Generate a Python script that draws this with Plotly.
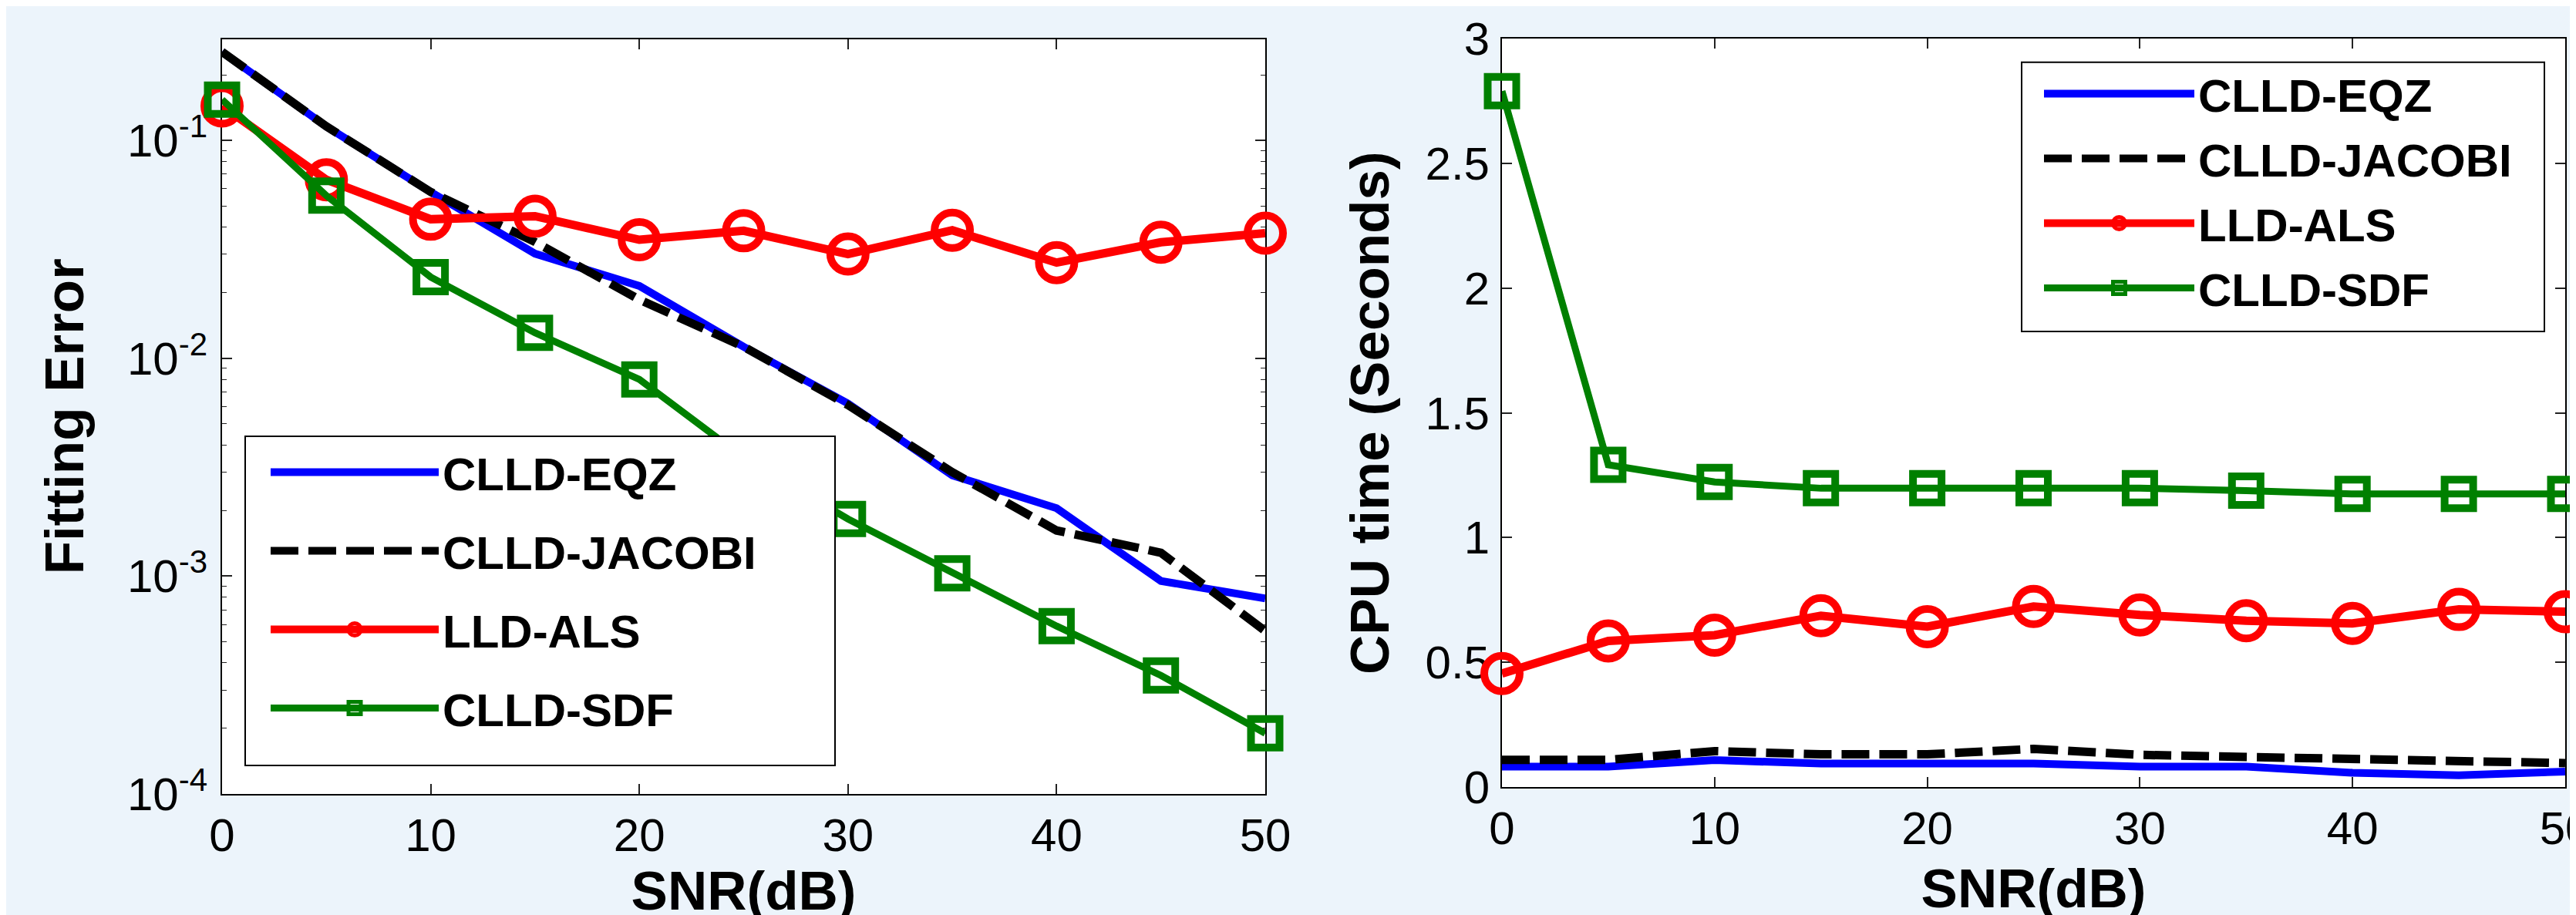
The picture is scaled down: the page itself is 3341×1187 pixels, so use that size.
import plotly.graph_objects as go

# ---------------- data ----------------
snr = [0, 5, 10, 15, 20, 25, 30, 35, 40, 45, 50]
series_names = ["CLLD-EQZ", "CLLD-JACOBI", "LLD-ALS", "CLLD-SDF"]

# Fitting error (log scale)
fit_eqz = [0.255, 0.116, 0.058, 0.0302, 0.0215, 0.0113, 0.0062, 0.0029, 0.00205, 0.00095, 0.00079]
fit_jacobi = [0.255, 0.116, 0.058, 0.0342, 0.0186, 0.0113, 0.0061, 0.0030, 0.00162, 0.00128, 0.00056]
fit_als = [0.144, 0.066, 0.0435, 0.0449, 0.0350, 0.0385, 0.0301, 0.0387, 0.0275, 0.0341, 0.0375]
fit_sdf = [0.154, 0.0558, 0.0236, 0.0131, 0.0080, 0.0035, 0.00183, 0.00103, 0.00059, 0.00035, 0.00019]

# CPU time (seconds)
cpu_eqz = [0.082, 0.082, 0.108, 0.094, 0.094, 0.094, 0.082, 0.082, 0.057, 0.047, 0.062]
cpu_jacobi = [0.109, 0.109, 0.144, 0.131, 0.131, 0.153, 0.129, 0.119, 0.109, 0.106, 0.096]
cpu_als = [0.455, 0.586, 0.609, 0.687, 0.643, 0.724, 0.690, 0.667, 0.656, 0.712, 0.703]
cpu_sdf = [2.79, 1.292, 1.223, 1.198, 1.198, 1.198, 1.198, 1.188, 1.175, 1.175, 1.175]

fit_ticks = [1e-4, 1e-3, 1e-2, 1e-1]
fit_ticktext = ["10<sup>-4</sup>", "10<sup>-3</sup>", "10<sup>-2</sup>", "10<sup>-1</sup>"]
x_ticks = [0, 10, 20, 30, 40, 50]

# ---------------- styles ----------------
FONT = "Liberation Sans, Arial, Helvetica, sans-serif"
styles = [
    dict(color="#0000FF", width=10, dash="solid", symbol=None, lw=0),
    dict(color="#000000", width=11, dash="36px,13px", symbol=None, lw=0),
    dict(color="#FF0000", width=11, dash="solid", symbol="circle-open", size=46, lw=10),
    dict(color="#008000", width=9, dash="solid", symbol="square-open", size=37, lw=10),
]

fig = go.Figure()

left_data = [fit_eqz, fit_jacobi, fit_als, fit_sdf]
right_data = [cpu_eqz, cpu_jacobi, cpu_als, cpu_sdf]

for panel, data, xa, ya, leg in [("l", left_data, "x", "y", "legend"),
                                  ("r", right_data, "x2", "y2", "legend2")]:
    for i, (name, vals, st) in enumerate(zip(series_names, data, styles)):
        kw = dict(
            x=snr, y=vals, name=name, xaxis=xa, yaxis=ya, legend=leg,
            legendgroup=f"{panel}{i}", cliponaxis=False,
            line=dict(color=st["color"], width=st["width"], dash=st["dash"]),
        )
        if st["symbol"]:
            kw["mode"] = "lines+markers"
            kw["marker"] = dict(symbol=st["symbol"], size=st["size"],
                                color=st["color"],
                                line=dict(color=st["color"], width=st["lw"]))
        else:
            kw["mode"] = "lines"
        fig.add_trace(go.Scatter(**kw))

W, H = 3341, 1187

axis_common = dict(
    showline=True, linecolor="black", linewidth=2, mirror="ticks",
    ticks="inside", ticklen=13, tickwidth=1.5, tickcolor="#222222",
    showgrid=False, zeroline=False, layer="below traces",
    tickfont=dict(family=FONT, size=60, color="black"),
    automargin=False, ticklabeloverflow="allow",
)
title_font = dict(family=FONT, size=71, color="black", weight="bold")

fig.update_layout(
    width=W, height=H,
    margin=dict(l=0, r=0, t=0, b=0),
    paper_bgcolor="#ecf4fb",
    plot_bgcolor="white",
    showlegend=True,
    xaxis=dict(axis_common, domain=[280 / W, 1633 / W], range=[0, 50],
               tickvals=x_ticks, anchor="y", ticklabelstandoff=0,
               title=dict(text="SNR(dB)", font=title_font, standoff=20)),
    yaxis=dict(axis_common, domain=[(H - 1022) / H, (H - 42.5) / H],
               type="log", range=[-4, -0.534], anchor="x",
               tickvals=fit_ticks, ticktext=fit_ticktext, ticklabelstandoff=5,
               minor=dict(ticks="inside", ticklen=6, tickwidth=1.2,
                          tickcolor="#222222", dtick="D1", showgrid=False),
               title=dict(text="Fitting Error", font=title_font, standoff=33)),
    xaxis2=dict(axis_common, domain=[1940 / W, 3319 / W], range=[0, 50],
                tickvals=x_ticks, anchor="y2", ticklabelstandoff=0,
                title=dict(text="SNR(dB)", font=title_font, standoff=20)),
    yaxis2=dict(axis_common, domain=[(H - 1013) / H, (H - 42.3) / H],
                range=[0, 3], dtick=0.5, anchor="x2", ticklabelstandoff=2,
                title=dict(text="CPU time (Seconds)", font=title_font, standoff=24)),
    legend=dict(x=338 / W, y=(H - 559) / H, xanchor="left", yanchor="top",
                bgcolor="rgba(0,0,0,0)", borderwidth=0, itemwidth=218,
                tracegroupgap=21,
                font=dict(family=FONT, size=60, color="black", weight="bold")),
    legend2=dict(x=2638 / W, y=(H - 68) / H, xanchor="left", yanchor="top",
                 bgcolor="rgba(0,0,0,0)", borderwidth=0, itemwidth=195,
                 tracegroupgap=3,
                 font=dict(family=FONT, size=60, color="black", weight="bold")),
    shapes=[
        dict(type="rect", xref="paper", yref="paper", layer="above",
             x0=310 / W, x1=1075 / W, y0=(H - 985) / H, y1=(H - 558) / H,
             fillcolor="white", line=dict(color="black", width=2)),
        dict(type="rect", xref="paper", yref="paper", layer="above",
             x0=2614 / W, x1=3292 / W, y0=(H - 422) / H, y1=(H - 72.7) / H,
             fillcolor="white", line=dict(color="black", width=2)),
    ],
)

fig.write_html("out.html")
